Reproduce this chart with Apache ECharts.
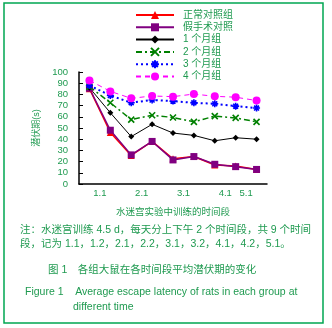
<!DOCTYPE html>
<html><head><meta charset="utf-8">
<script src="https://cdn.jsdelivr.net/npm/echarts@6/dist/echarts.min.js"></script>
<style>html,body{margin:0;padding:0;background:#fff}#c{width:332px;height:328px}</style>
</head><body><div id="c"></div>
<script>
// ---- data ----
const categories = ['1.1','1.2','2.1','2.2','3.1','3.2','4.1','4.2','5.1'];
const tickLabels = ['1.1','','2.1','','3.1','','4.1','5.1',''];
const seriesNames = ['正常对照组','假手术对照','1 个月组','2 个月组','3 个月组','4 个月组'];
const normalCtrl = [85, 46, 25.5, 38, 22.5, 24.5, 17, 16, 13];
const shamCtrl   = [85.5, 48, 26, 38, 21.5, 24.5, 17.6, 15.5, 13];
const month1     = [86, 63.6, 42.3, 53.3, 45.5, 43.4, 38.6, 41.3, 40];
const month2     = [87, 72.5, 57.5, 61.4, 59.4, 55.5, 60.6, 59, 55.5];
const month3     = [88, 79, 72.6, 75, 74, 72.5, 71.6, 69.5, 67.8];
const month4     = [92.5, 82.7, 76.5, 78.6, 78, 80.3, 78.3, 77.5, 74.5];
const yTicks = {min: 0, max: 100, step: 10};
const yName = '潜伏期(s)';
const xName = '水迷宫实验中训练的时间段';
const noteLines = ['注：水迷宫训练 4.5 d，每天分上下午 2 个时间段，共 9 个时间',
                   '段，记为 1.1，1.2，2.1，2.2，3.1，3.2，4.1，4.2，5.1。'];
const captionCn = '图 1　各组大鼠在各时间段平均潜伏期的变化';
const captionEn1 = 'Figure 1    Average escape latency of rats in each group at';
const captionEn2 = 'different time';

// ---- styles ----
const GREEN = '#1f9a50';
const FONT = '"Liberation Sans", "Noto Sans CJK SC", sans-serif';
const XPATH = 'path://M0,0L10,10M10,0L0,10';
const STAR = 'path://M5,0L5,10M0,5L10,5M1.5,1.5L8.5,8.5M8.5,1.5L1.5,8.5';

function mk(name, data, color, symbol, size, lineType, lw, stroke) {
  return {
    name, type: 'line', data, symbol, symbolSize: size,
    showAllSymbol: true,
    lineStyle: {color, width: lw, type: lineType},
    itemStyle: stroke ? {color: color, borderColor: color, borderWidth: 1.6}
                      : {color: color, borderWidth: 0},
    emphasis: {disabled: true},
    animation: false
  };
}

const chart = echarts.init(document.getElementById('c'));
chart.setOption({
  animation: false,
  textStyle: {fontFamily: FONT},
  grid: {left: 79, right: 65, top: 72, bottom: 144},
  legend: {
    orient: 'vertical', left: 130, top: 5,
    itemWidth: 38, itemHeight: 10, itemGap: 2.3,
    textStyle: {color: GREEN, fontSize: 10, fontFamily: FONT, padding: [0,0,0,4]},
    data: seriesNames
  },
  xAxis: {
    type: 'category', data: categories, boundaryGap: true,
    name: xName, nameLocation: 'middle', nameGap: 24,
    nameTextStyle: {color: GREEN, fontSize: 9.5, fontFamily: FONT},
    axisLine: {lineStyle: {color: '#000', width: 1.5}},
    axisTick: {inside: true, length: 4, lineStyle: {color: '#000', width: 1}},
    axisLabel: {
      interval: 0, color: GREEN, fontSize: 9.5, margin: 5,
      formatter: (v, i) => tickLabels[i] ? '{a|' + tickLabels[i] + '}' : '',
      rich: {a: {color: GREEN, fontSize: 9.5, fontFamily: FONT, padding: [0,0,0,21]}}
    },
    splitLine: {show: false}
  },
  yAxis: {
    type: 'value', min: yTicks.min, max: yTicks.max, interval: yTicks.step,
    name: yName, nameLocation: 'middle', nameGap: 30, nameRotate: 90,
    nameTextStyle: {color: GREEN, fontSize: 9, fontFamily: FONT},
    axisLine: {show: true, lineStyle: {color: '#000', width: 1.5}},
    axisTick: {show: true, inside: true, length: 4, lineStyle: {color: '#000', width: 1}},
    axisLabel: {color: GREEN, fontSize: 9.5, margin: 11},
    splitLine: {show: false}
  },
  series: [
    mk(seriesNames[0], normalCtrl, '#ff0000', 'triangle', 7, 'solid', 1.5, false),
    mk(seriesNames[1], shamCtrl, '#800080', 'rect', 7, 'solid', 1.5, false),
    mk(seriesNames[2], month1, '#000000', 'diamond', 6, 'solid', 1, false),
    mk(seriesNames[3], month2, '#008000', XPATH, 6, [6,3,2,3], 1.5, true),
    mk(seriesNames[4], month3, '#0000ff', STAR, 7, [2,3], 2, true),
    mk(seriesNames[5], month4, '#ff00ff', 'circle', 8, [5,4], 1, false)
  ],
  graphic: [
    {type: 'rect', shape: {x: 4, y: 3, width: 319, height: 320},
     style: {fill: 'none', stroke: '#00a651', lineWidth: 1.5}, silent: true},
    {type: 'text', left: 20, top: 225,
     style: {text: noteLines[0], fill: GREEN, font: '10.5px ' + FONT}},
    {type: 'text', left: 20, top: 239,
     style: {text: noteLines[1], fill: GREEN, font: '10.5px ' + FONT}},
    {type: 'text', left: 48, top: 265,
     style: {text: captionCn, fill: GREEN, font: '10.5px ' + FONT}},
    {type: 'text', left: 25, top: 287,
     style: {text: captionEn1, fill: GREEN, font: '10.5px ' + FONT}},
    {type: 'text', left: 73, top: 302,
     style: {text: captionEn2, fill: GREEN, font: '10.5px ' + FONT}}
  ]
});
</script></body></html>
